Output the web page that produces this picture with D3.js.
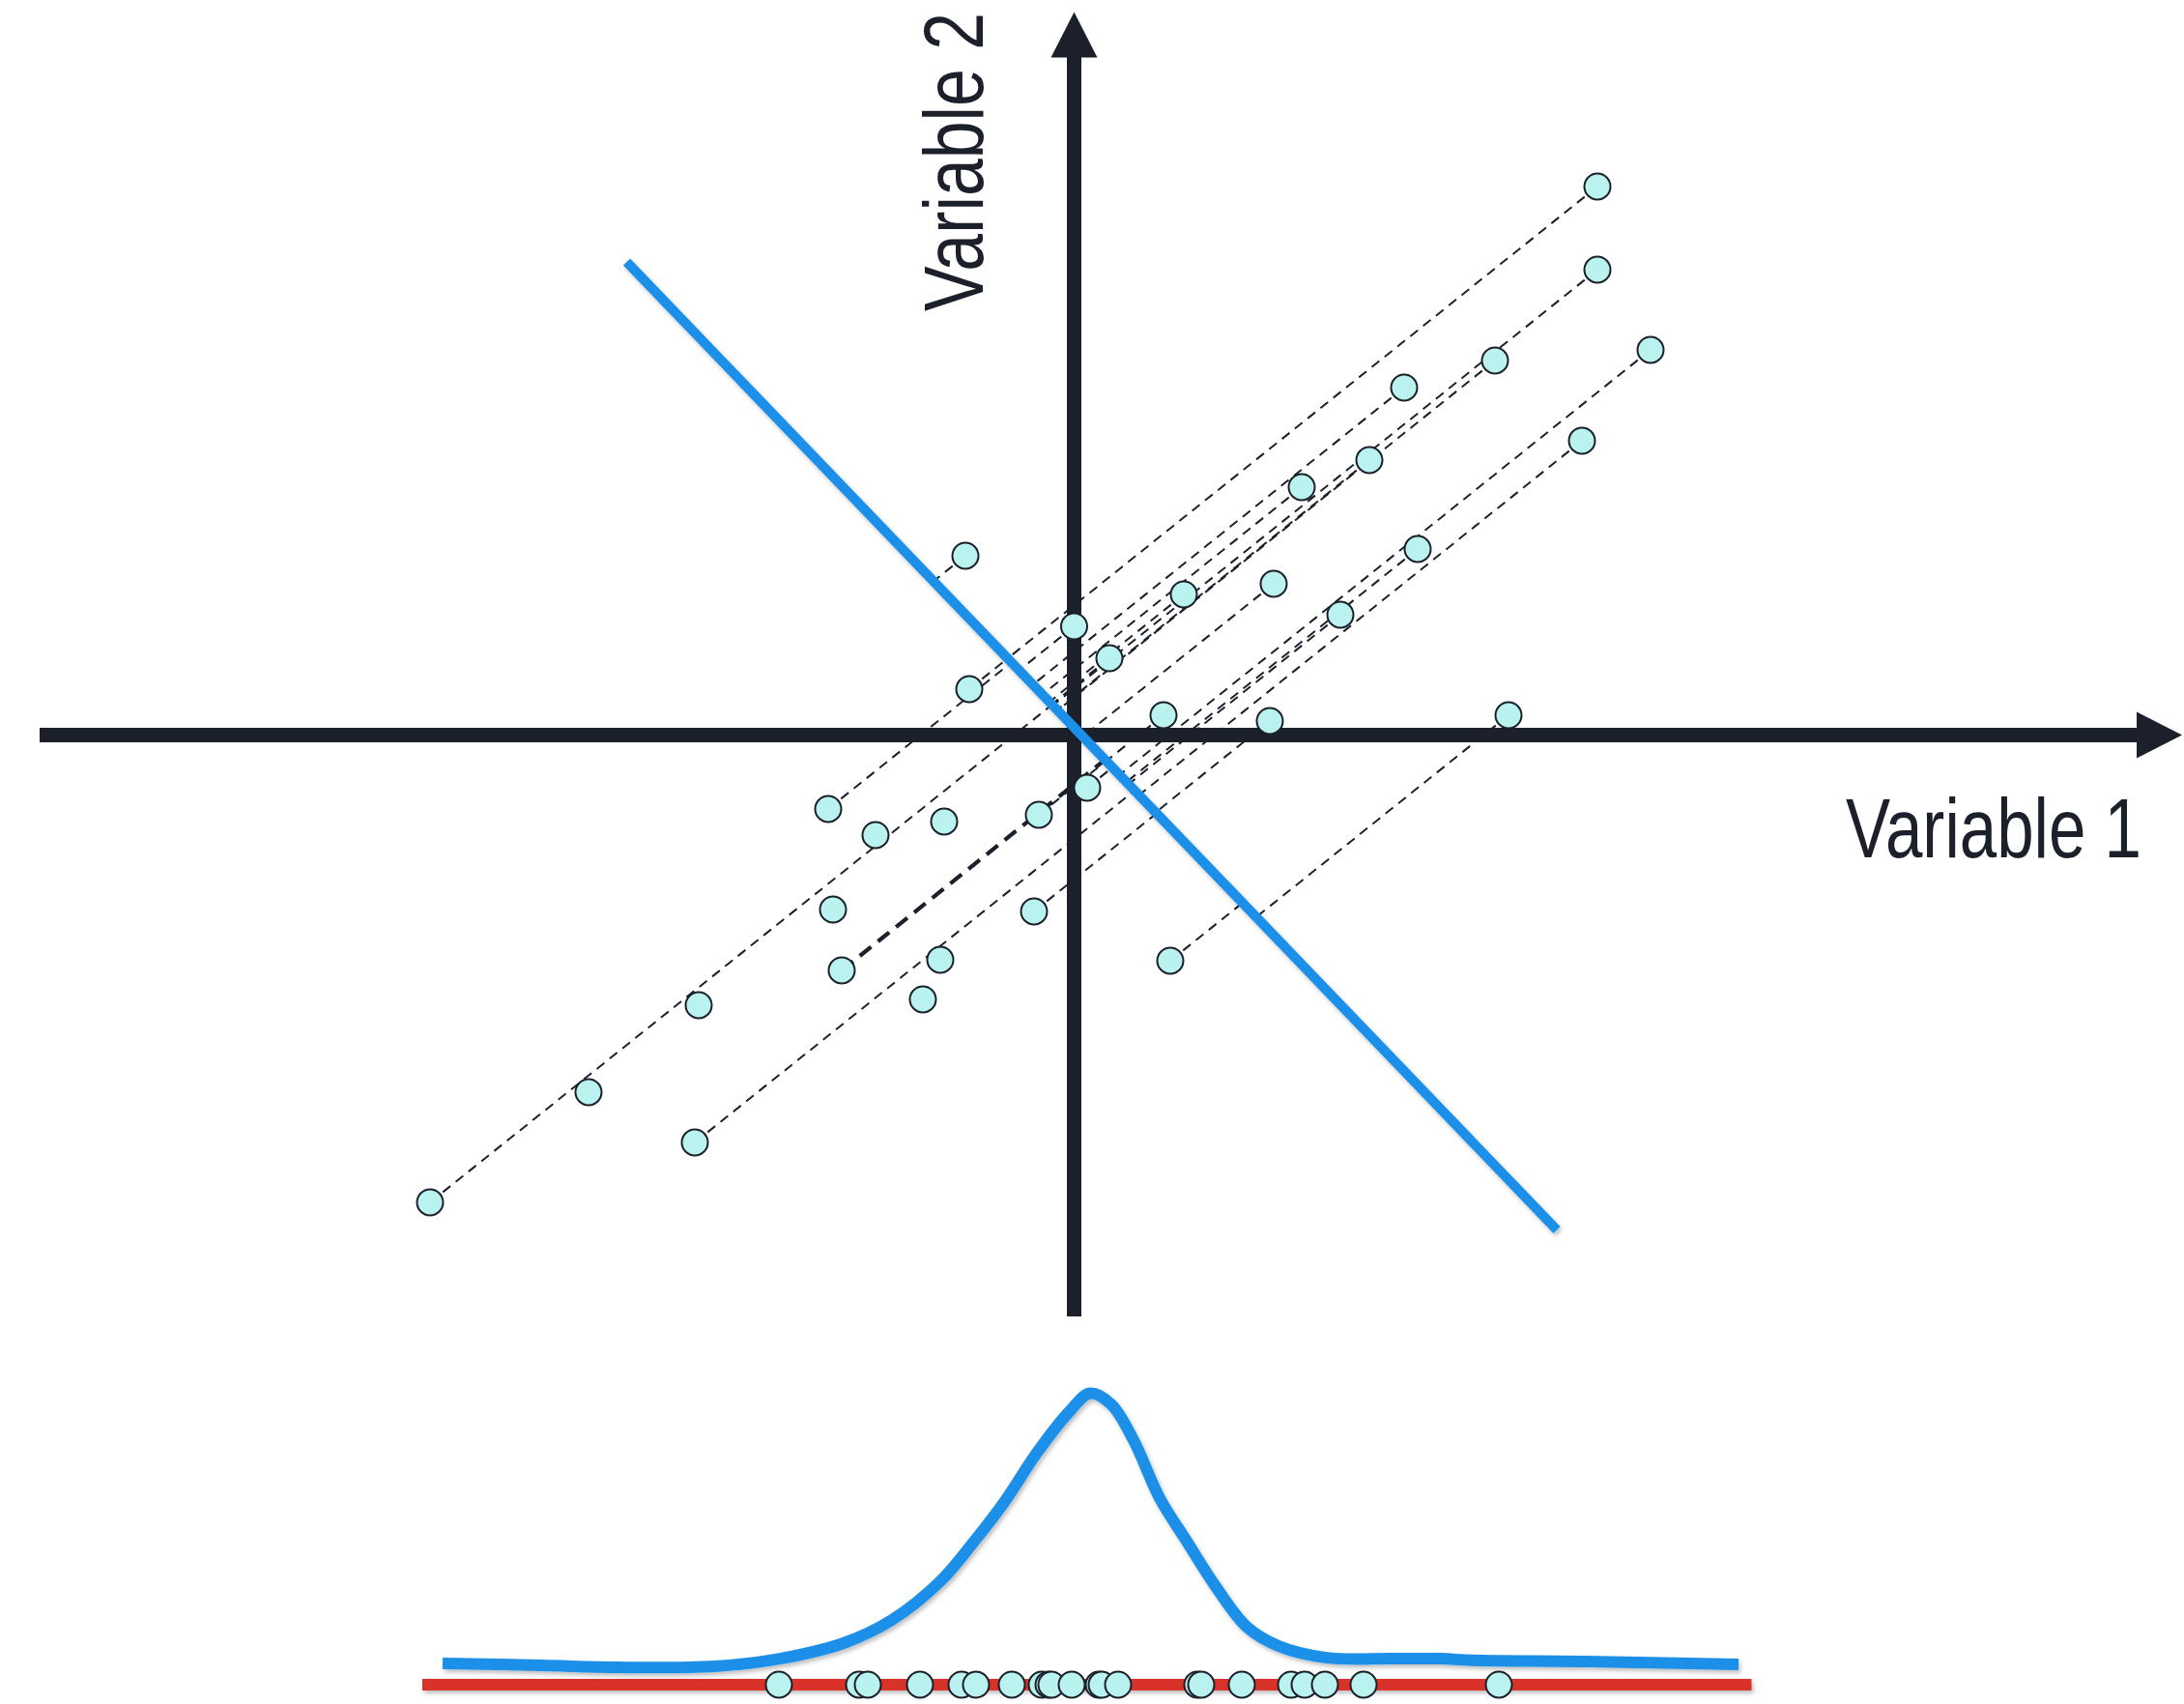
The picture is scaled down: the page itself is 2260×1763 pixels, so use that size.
<!DOCTYPE html>
<html>
<head>
<meta charset="utf-8">
<script src="https://cdn.jsdelivr.net/npm/d3@7"></script>
<style>
  html, body { margin: 0; padding: 0; background: #ffffff; }
  svg { display: block; }
</style>
</head>
<body>
<div id="chart"></div>
<script>
// ---------------- data ----------------
// scatter points (Variable 1, Variable 2)
const pointsV1 = [10.83, 10.83, 11.93, 10.51, 8.71, 6.83, 6.11, 4.71, 4.13, 7.11, 5.51, 2.27, 0.73, 0.0, -2.25, -2.17, 1.85, 4.05, 8.99, 0.27, -0.73, -2.69, -4.11, -5.09, -4.99, -4.81, -0.83, -2.77, -3.13, 1.99, -7.77, -10.05, -7.85, -13.33];
const pointsV2 = [11.35, 9.63, 7.97, 6.09, 7.75, 7.19, 5.69, 5.13, 3.13, 3.85, 2.49, 2.91, 1.59, 2.25, 3.71, 0.95, 0.41, 0.29, 0.41, -1.09, -1.65, -1.79, -2.07, -1.53, -3.61, -4.87, -3.65, -4.65, -5.47, -4.67, -5.59, -7.39, -8.43, -9.67];
// whether a projection line is drawn from the point (1 = thin, 2 = heavy, 0 = none)
const projLine = [1, 1, 1, 1, 1, 1, 1, 1, 1, 1, 1, 1, 1, 1, 1, 1, 1, 1, 1, 1, 1, 0, 0, 1, 0, 2, 1, 0, 0, 1, 0, 0, 1, 1];
const projSlope = 0.8;           // direction of projection lines (dV2/dV1)
// the blue component line (end points)
const compV1 = [-9.26, 9.99];
const compV2 = [9.79, -10.24];
// axis extents
const axisV1 = [-21.41, 22.93];
const axisV2 = [-12.03, 14.96];
const axisLabels = ["Variable 1", "Variable 2"];
// projected scores on the bottom strip
const projScores = [-6.11, -4.45, -4.27, -3.19, -2.33, -2.03, -1.29, -0.67, -0.53, -0.47, -0.05, 0.51, 0.57, 0.91, 2.55, 2.63, 3.47, 4.49, 4.77, 5.19, 5.99, 8.79];
const stripExtent = [-13.49, 14.02];
// density curve of the projected scores
const densX = [-13.07, -11.03, -9.43, -7.43, -6.09, -4.77, -3.77, -2.77, -2.09, -1.43, -0.77, -0.09, 0.33, 0.77, 1.23, 1.77, 2.31, 2.91, 3.57, 4.23, 5.23, 6.57, 7.57, 8.23, 10.57, 13.75];
const densY = [0.073, 0.066, 0.059, 0.063, 0.089, 0.142, 0.221, 0.353, 0.485, 0.627, 0.792, 0.934, 0.995, 0.957, 0.835, 0.637, 0.495, 0.340, 0.198, 0.132, 0.092, 0.089, 0.089, 0.083, 0.079, 0.069];

// ---------------- layout ----------------
const W = 2260, H = 1763;
const ink = "#1b202a";
const blue = "#1e8fe8";
const red = "#d8332b";
const pointFill = "#b9f2ee";

const svg = d3.select("#chart").append("svg").attr("width", W).attr("height", H);

const defs = svg.append("defs");
const f = defs.append("filter").attr("id", "shadow")
  .attr("filterUnits", "userSpaceOnUse")
  .attr("x", 0).attr("y", 0).attr("width", W).attr("height", H);
f.append("feDropShadow").attr("dx", 2).attr("dy", 3).attr("stdDeviation", 2).attr("flood-color", "#000").attr("flood-opacity", 0.25);

const x = d3.scaleLinear().domain([-20, 20]).range([111.5, 2111.5]);
const y = d3.scaleLinear().domain([-10, 10]).range([1260.5, 260.5]);
const yDen = d3.scaleLinear().domain([0, 1]).range([1743, 1440]);

const points = pointsV1.map((v, i) => ({ v1: v, v2: pointsV2[i], line: projLine[i] }));

// intersection of projection line with the component line
function projectOnComponent(p) {
  const ax = compV1[0], ay = compV2[0];
  const bx = compV1[1] - ax, by = compV2[1] - ay;
  const dx = 1, dy = projSlope;
  const cross = (ux, uy, vx, vy) => ux * vy - uy * vx;
  const t = cross(ax - p.v1, ay - p.v2, bx, by) / cross(dx, dy, bx, by);
  return { v1: p.v1 + t * dx, v2: p.v2 + t * dy };
}

// ---------------- axes ----------------
const gAx = svg.append("g");
const head = 48, headLen = 47;
const ox = x(0), oy = y(0);
gAx.append("line")
  .attr("x1", x(axisV1[0])).attr("x2", x(axisV1[1]) - headLen + 2)
  .attr("y1", oy).attr("y2", oy)
  .attr("stroke", ink).attr("stroke-width", 15);
gAx.append("path")
  .attr("d", `M${x(axisV1[1])},${oy} L${x(axisV1[1]) - headLen},${oy - head / 2} L${x(axisV1[1]) - headLen},${oy + head / 2} Z`)
  .attr("fill", ink);
gAx.append("line")
  .attr("x1", ox).attr("x2", ox)
  .attr("y1", y(axisV2[0])).attr("y2", y(axisV2[1]) + headLen - 2)
  .attr("stroke", ink).attr("stroke-width", 15);
gAx.append("path")
  .attr("d", `M${ox},${y(axisV2[1])} L${ox - head / 2},${y(axisV2[1]) + headLen} L${ox + head / 2},${y(axisV2[1]) + headLen} Z`)
  .attr("fill", ink);

// axis labels (condensed by a horizontal scale so that bounding boxes stay exact)
function condensedLabel(text, tx, ty, rot, size, targetLen) {
  const g = svg.append("g").attr("transform", `translate(${tx},${ty}) rotate(${rot})`);
  const t = g.append("text")
    .attr("font-family", "'Liberation Sans', Arial, Helvetica, sans-serif")
    .attr("font-size", size).attr("fill", ink)
    .text(text);
  const natural = t.node().getComputedTextLength() || targetLen;
  t.attr("transform", `scale(${targetLen / natural},1)`);
}
condensedLabel(axisLabels[0], 1910, 887, 0, 87, 306);
condensedLabel(axisLabels[1], 1017, 322, -90, 88, 309);

// ---------------- projection lines ----------------
const gProj = svg.append("g");
points.filter(p => p.line > 0).forEach(p => {
  const q = projectOnComponent(p);
  gProj.append("line")
    .attr("x1", x(p.v1)).attr("y1", y(p.v2))
    .attr("x2", x(q.v1)).attr("y2", y(q.v2))
    .attr("stroke", ink)
    .attr("stroke-width", p.line === 2 ? 4.2 : 2)
    .attr("stroke-dasharray", p.line === 2 ? "15,9" : "10,7");
});

// ---------------- component line ----------------
svg.append("line")
  .attr("x1", x(compV1[0])).attr("y1", y(compV2[0]))
  .attr("x2", x(compV1[1])).attr("y2", y(compV2[1]))
  .attr("stroke", blue).attr("stroke-width", 10)
  .attr("filter", "url(#shadow)");

// ---------------- points ----------------
svg.append("g").selectAll("circle").data(points).join("circle")
  .attr("cx", d => x(d.v1)).attr("cy", d => y(d.v2)).attr("r", 13.5)
  .attr("fill", pointFill).attr("stroke", ink).attr("stroke-width", 2);

// ---------------- bottom strip ----------------
const dens = densX.map((v, i) => [v, densY[i]]);
svg.append("path")
  .datum(dens)
  .attr("d", d3.line().x(d => x(d[0])).y(d => yDen(d[1])).curve(d3.curveCatmullRom.alpha(0.5)))
  .attr("fill", "none").attr("stroke", blue).attr("stroke-width", 12)
  .attr("filter", "url(#shadow)");

svg.append("line")
  .attr("x1", x(stripExtent[0])).attr("x2", x(stripExtent[1]))
  .attr("y1", yDen(0)).attr("y2", yDen(0))
  .attr("stroke", red).attr("stroke-width", 12)
  .attr("filter", "url(#shadow)");

svg.append("g").selectAll("circle").data(projScores).join("circle")
  .attr("cx", d => x(d)).attr("cy", yDen(0)).attr("r", 13.5)
  .attr("fill", pointFill).attr("stroke", ink).attr("stroke-width", 2);
</script>
</body>
</html>
